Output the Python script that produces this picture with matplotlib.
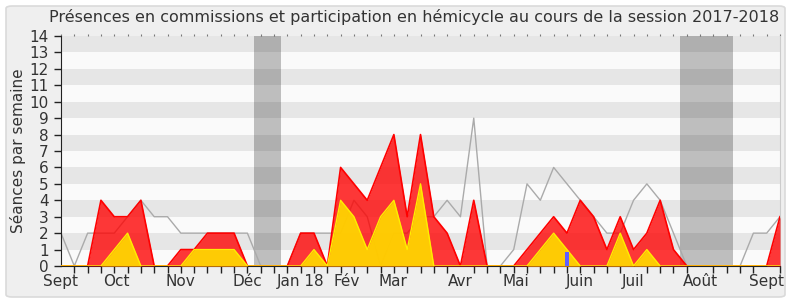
import matplotlib.pyplot as plt
import numpy as np
from matplotlib.patches import FancyBboxPatch

# weekly values, session 2017-2018 (week 0 = early Sept)
weeks = np.arange(55)
commission = [0, 0, 0, 4, 3, 3, 4, 0, 0, 1, 1, 2, 2, 2, 0, 0, 0, 0, 2, 2,
              0, 6, 5, 4, 6, 8, 3, 8, 3, 2, 0, 4, 0, 0, 0, 1, 2, 3, 2, 4,
              3, 1, 3, 1, 2, 4, 1, 0, 0, 0, 0, 0, 0, 0, 3]
interventions = [0, 0, 0, 0, 1, 2, 0, 0, 0, 0, 1, 1, 1, 1, 0, 0, 0, 0, 0, 1,
                 0, 4, 3, 1, 3, 4, 1, 5, 0, 0, 0, 0, 0, 0, 0, 0, 1, 2, 1, 0,
                 0, 0, 2, 0, 1, 0, 0, 0, 0, 0, 0, 0, 0, 0, 0]
hemicycle = [2, 0, 2, 2, 2, 3, 4, 3, 3, 2, 2, 2, 2, 2, 2, 0, 0, 0, 2, 2,
             2, 2, 4, 3, 0, 2, 2, 3, 3, 4, 3, 9, 0, 0, 1, 5, 4, 6, 5, 4,
             3, 2, 2, 4, 5, 4, 2, 0, 0, 0, 0, 0, 2, 2, 3]
questions_x = [38]
questions = [0.87]
holidays = [(14.5, 16.5), (46.5, 50.5)]
month_pos = [0, 4.18, 8.95, 13.97, 17.96, 21.47, 24.9, 30.0, 34.2, 38.95, 43.0, 48.0, 53.0]
month_labels = ["Sept", "Oct", "Nov", "Déc", "Jan 18", "Fév", "Mar", "Avr",
                "Mai", "Juin", "Juil", "Août", "Sept"]

txt = '#333333'
fig = plt.figure(figsize=(7.9, 3.0), dpi=100, facecolor='white')
fig.patches.append(FancyBboxPatch((6 / 790, 3 / 300), 779 / 790, 291 / 300,
                                  boxstyle="round,pad=0,rounding_size=0.008",
                                  transform=fig.transFigure, facecolor='#efefef',
                                  edgecolor='#dadada', linewidth=1.2, zorder=-10))

ax = fig.add_axes([61 / 790, 34 / 300, 719 / 790, 230 / 300])
ax.set_facecolor('#fafafa')
for k in range(1, 14, 2):
    ax.axhspan(k, k + 1, color='#e6e6e6', lw=0, zorder=0)
for a, b in holidays:
    ax.axvspan(a, b, color='black', alpha=0.24, lw=0, zorder=1)

ax.plot(weeks, hemicycle, color='#aaaaaa', lw=1, zorder=2)
ax.fill_between(weeks, commission, color='#ff0000', alpha=0.78, lw=0, zorder=3)
ax.plot(weeks, commission, color='#ff0000', lw=1.2, zorder=3)
ax.fill_between(weeks, interventions, color='#ffd700', alpha=0.93, lw=0, zorder=4)
ax.plot(weeks, interventions, color='#ffee00', lw=1, zorder=4)
ax.bar(questions_x, questions, width=0.3, color='#5f5fff', zorder=5)

ax.set_xlim(0, 54)
ax.set_ylim(0, 14)
ax.set_yticks(range(15))
ax.set_xticks(month_pos)
ax.set_xticklabels(month_labels)
ax.set_xticks(weeks, minor=True)
ax.tick_params(axis='x', which='major', length=0, pad=6, labelsize=11, colors=txt)
ax.tick_params(axis='x', which='minor', length=5, width=1, color='#222222')
ax.tick_params(axis='y', length=5, width=1, color='#222222', labelsize=11,
               labelcolor=txt, pad=4)

top = ax.secondary_xaxis('top')
top.set_xticks(weeks)
top.tick_params(length=1.2, width=0.8, color='#777777', labeltop=False)
top.spines['top'].set_visible(False)

ax.spines['top'].set_visible(False)
ax.spines['right'].set_color('#cccccc')
ax.spines['left'].set_color('#222222')
ax.spines['bottom'].set_color('#222222')

ax.set_ylabel('Séances par semaine', fontsize=11, color=txt, labelpad=2)
fig.text(0.524, 0.942, 'Présences en commissions et participation en hémicycle au cours de la session 2017-2018',
         ha='center', va='center', fontsize=11.5, color=txt)

fig.savefig('out.png', dpi=100, facecolor=fig.get_facecolor())
